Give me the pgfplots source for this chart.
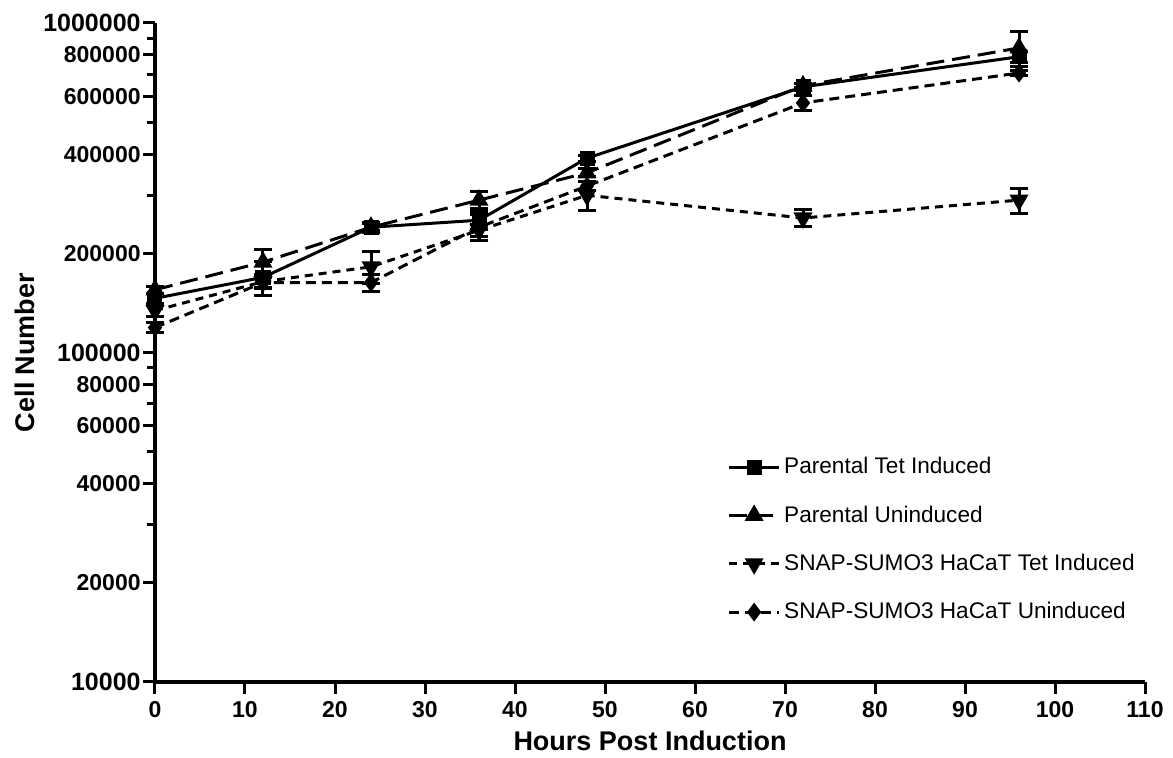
\documentclass[border=0pt]{standalone}
\usepackage{fontspec}
\setmainfont{Liberation Sans}
\usepackage{pgfplots}
\usepackage{pgfplotstable}
\pgfplotsset{compat=1.18}

% hours, cell number, error
\pgfplotstableread{
x y e
0 146000 5000
12 169000 20000
24 240000 8000
36 252000 15000
48 389000 8000
72 640000 15000
96 790000 30000
}\partet

\pgfplotstableread{
x y e
0 155000 4000
12 188000 17000
24 240000 6000
36 290000 17000
48 351000 10000
72 645000 10000
96 840000 100000
}\parun

\pgfplotstableread{
x y e
0 134000 5000
12 164000 8000
24 182000 20000
36 235000 10000
48 300000 30000
72 256000 15000
96 290000 25000
}\snaptet

\pgfplotstableread{
x y e
0 119000 4000
12 163000 6000
24 163000 10000
36 240000 22000
48 320000 10000
72 572000 30000
96 705000 10000
}\snapun

\newcommand{\bt}{\fontsize{12.5}{14}\selectfont}

\begin{document}
\begin{tikzpicture}
\begin{axis}[
  name=ax,
  scale only axis, width=495pt, height=329.5pt,
  xmin=0, xmax=110, ymin=10000, ymax=1000000, ymode=log,
  axis lines=left, axis line style={-, line width=2pt},
  clip=false,
  xtick={0,10,...,110},
  ytick={10000,20000,40000,60000,80000,100000,200000,400000,600000,800000,1000000},
  yticklabels={{\bt 10000},20000,40000,60000,80000,{\bt 100000},200000,400000,600000,800000,{\bt 1000000}},
  minor ytick={30000,50000,70000,90000,300000,500000,700000,900000},
  tick align=outside, major tick length=6pt, minor tick length=4pt,
  every tick/.style={black, line width=1.5pt},
  /pgf/number format/assume math mode=true,
  ticklabel style={font=\fontsize{11.5}{13}\selectfont\bfseries},
  yticklabel style={inner sep=1pt},
  xlabel={Hours Post Induction},
  ylabel={Cell Number},
  label style={font=\fontsize{13.5}{15}\selectfont\bfseries},
  xlabel style={at={(axis description cs:0.5,-0.09)}, anchor=center},
  ylabel style={at={(axis description cs:-0.131,0.5)}, anchor=center},
  legend style={draw=none, fill=none, at={(axis description cs:0.578,0.347)}, anchor=north west,
    font=\fontsize{11.3}{13}\selectfont, row sep=10.9pt, inner sep=0pt,
    nodes={inner sep=1.8pt, anchor=west}},
  legend cell align=left,
  legend image code/.code={\draw[mark repeat=2,mark phase=2] plot coordinates {(0pt,0pt)(12.5pt,0pt)(25pt,0pt)};},
  every axis plot/.append style={black, line width=1.5pt},
  error bars/error bar style={solid, line width=1.5pt},
  error bars/error mark options={solid, rotate=90, mark size=4.5pt, line width=1.5pt},
]
\addplot[mark=square*, mark size=3pt, mark options={solid},
  error bars/.cd, y dir=both, y explicit]
  table[x=x, y=y, y error=e] {\partet};
\addlegendentry{Parental Tet Induced}

\addplot[dash pattern=on 9pt off 4pt, mark=triangle*, mark size=4pt, mark options={solid},
  error bars/.cd, y dir=both, y explicit]
  table[x=x, y=y, y error=e] {\parun};
\addlegendentry{Parental Uninduced}

\addplot[dash pattern=on 4pt off 3pt, mark=triangle*, mark size=4pt, mark options={solid, rotate=180},
  error bars/.cd, y dir=both, y explicit]
  table[x=x, y=y, y error=e] {\snaptet};
\addlegendentry{SNAP-SUMO3 HaCaT Tet Induced}

\addplot[dash pattern=on 5pt off 3pt, mark=diamond*, mark size=3.5pt, mark options={solid},
  error bars/.cd, y dir=both, y explicit]
  table[x=x, y=y, y error=e] {\snapun};
\addlegendentry{SNAP-SUMO3 HaCaT Uninduced}
\end{axis}
\pgfresetboundingbox
\path ([shift={(-77.5pt,-37.5pt)}]ax.south west) rectangle ([shift={(509pt,341pt)}]ax.south west);
\end{tikzpicture}
\end{document}
